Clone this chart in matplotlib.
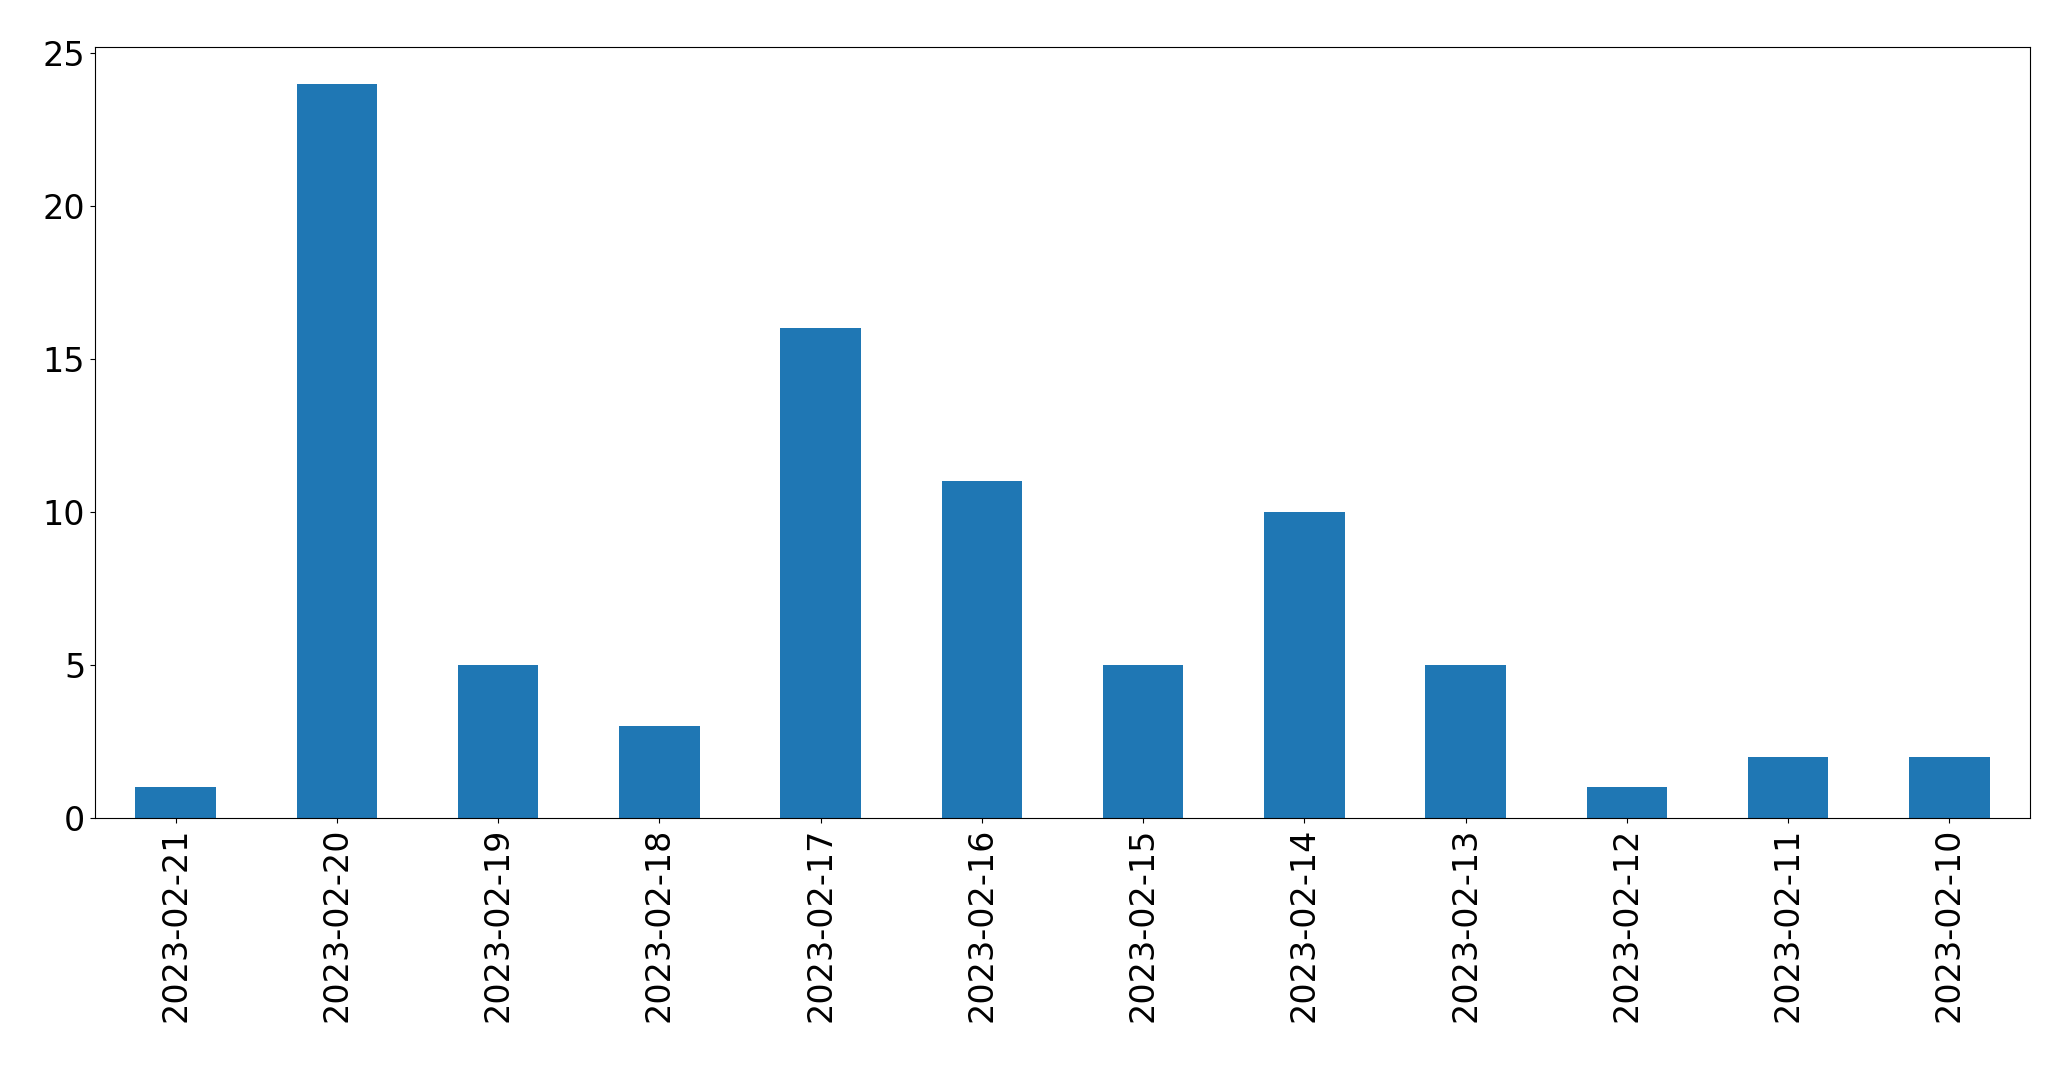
import matplotlib
matplotlib.use("Agg")
import matplotlib.pyplot as plt

# ── Data ────────────────────────────────────────────────────
dates = ["2023-02-21", "2023-02-20", "2023-02-19", "2023-02-18",
         "2023-02-17", "2023-02-16", "2023-02-15", "2023-02-14",
         "2023-02-13", "2023-02-12", "2023-02-11", "2023-02-10"]
counts = [1, 24, 5, 3, 16, 11, 5, 10, 5, 1, 2, 2]

# ── Plot ────────────────────────────────────────────────────
fig = plt.figure(figsize=(20.71, 10.69), dpi=100)
ax = fig.add_axes([95 / 2071, 1 - 818 / 1069, (2030 - 95) / 2071, (818 - 47) / 1069])

x = range(len(dates))
ax.bar(x, counts, width=0.5, color="#1f77b4")
ax.set_xlim(-0.5, len(dates) - 0.5)
ax.set_xticks(list(x))
ax.set_xticklabels(dates, rotation=90)
ax.tick_params(axis="both", labelsize=24)

fig.savefig("out.png", dpi=100)
